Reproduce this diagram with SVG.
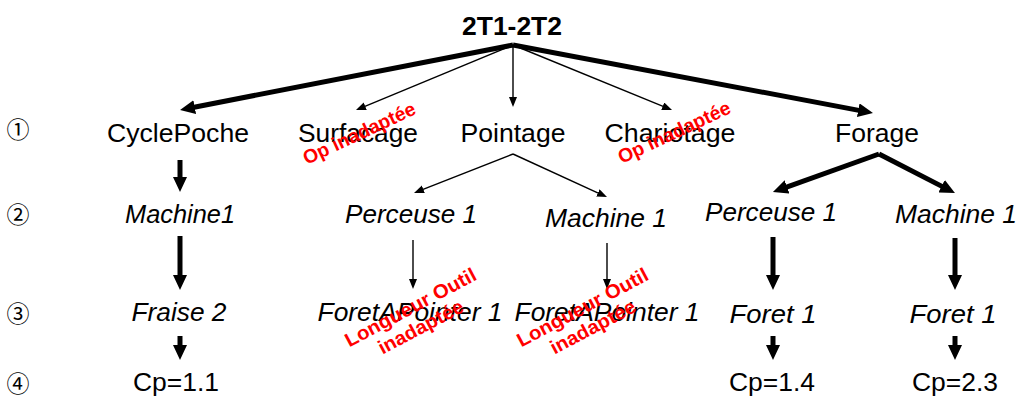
<svg xmlns="http://www.w3.org/2000/svg" width="1023" height="399" viewBox="0 0 1023 399">
<style>
  .n { font-family: "Liberation Sans", Arial, sans-serif; font-size: 25px; fill: #000; text-anchor: middle; }
  .i { font-style: italic; }
  .title { font-weight: bold; }
  .lvl { font-family: "Noto Sans CJK JP", "DejaVu Sans", sans-serif; font-size: 23px; fill: #000; text-anchor: middle; }
  .red { font-family: "Liberation Sans", Arial, sans-serif; font-size: 19.5px; font-weight: bold; fill: #ff0000; text-anchor: middle; }
  .thick { stroke: #000; stroke-width: 5; fill: none; marker-end: url(#hk); }
  .thin { stroke: #000; stroke-width: 1.4; fill: none; marker-end: url(#hn); }
</style>
<defs>
  <marker id="hk" markerUnits="userSpaceOnUse" markerWidth="16" markerHeight="14" refX="2" refY="7" orient="auto">
    <path d="M0,0 L15,7 L0,14 z" fill="#000"/>
  </marker>
  <marker id="hn" markerUnits="userSpaceOnUse" markerWidth="11" markerHeight="9" refX="1" refY="4" orient="auto">
    <path d="M0,0 L10,4 L0,8 z" fill="#000"/>
  </marker>
</defs>
<rect width="1023" height="399" fill="#fff"/>

<g id="connectors">
  <line class="thick" x1="513" y1="45" x2="192.8" y2="107.5"/>
  <line class="thin" x1="513" y1="45" x2="364.3" y2="106.6"/>
  <line class="thin" x1="513" y1="45" x2="513" y2="98"/>
  <line class="thin" x1="513" y1="45" x2="663.7" y2="106.6"/>
  <line class="thick" x1="513" y1="45" x2="860.2" y2="110.6"/>
  <line class="thin" x1="513" y1="154" x2="422.4" y2="189.7"/>
  <line class="thin" x1="513" y1="154" x2="598.8" y2="193.3"/>
  <line class="thick" x1="879" y1="154" x2="785.2" y2="187.6"/>
  <line class="thick" x1="879" y1="154" x2="943.4" y2="187.1"/>
  <line class="thick" x1="180" y1="160" x2="180" y2="179"/>
  <line class="thick" x1="180" y1="236" x2="180" y2="277"/>
  <line class="thick" x1="180" y1="336" x2="180" y2="347"/>
  <line class="thin" x1="413" y1="240" x2="413" y2="280"/>
  <line class="thin" x1="607" y1="243" x2="607" y2="280"/>
  <line class="thick" x1="773" y1="237" x2="773" y2="277"/>
  <line class="thick" x1="955" y1="238" x2="955" y2="277"/>
  <line class="thick" x1="773" y1="336" x2="773" y2="347"/>
  <line class="thick" x1="955" y1="336" x2="955" y2="347"/>
</g>

<g id="levels">
  <text class="lvl" x="18" y="138">①</text>
  <text class="lvl" x="18" y="223">②</text>
  <text class="lvl" x="18" y="322">③</text>
  <text class="lvl" x="18" y="392">④</text>
</g>

<g id="root"><text class="n title" x="512" y="35" textLength="100" lengthAdjust="spacingAndGlyphs">2T1-2T2</text></g>

<g id="cyclepoche"><text class="n" x="178" y="142" textLength="142" lengthAdjust="spacingAndGlyphs">CyclePoche</text></g>
<g id="surfacage"><text class="n" x="358" y="142" textLength="120" lengthAdjust="spacingAndGlyphs">Surfacage</text></g>
<g id="pointage"><text class="n" x="513" y="142" textLength="105" lengthAdjust="spacingAndGlyphs">Pointage</text></g>
<g id="chariotage"><text class="n" x="670" y="142" textLength="131" lengthAdjust="spacingAndGlyphs">Chariotage</text></g>
<g id="forage"><text class="n" x="877" y="142" textLength="84" lengthAdjust="spacingAndGlyphs">Forage</text></g>

<g id="machine1-a"><text class="n i" x="180" y="223" textLength="110" lengthAdjust="spacingAndGlyphs">Machine1</text></g>
<g id="perceuse1-b"><text class="n i" x="411" y="223" textLength="132" lengthAdjust="spacingAndGlyphs">Perceuse 1</text></g>
<g id="machine1-b"><text class="n i" x="606" y="227" textLength="122" lengthAdjust="spacingAndGlyphs">Machine 1</text></g>
<g id="perceuse1-c"><text class="n i" x="771" y="221" textLength="132" lengthAdjust="spacingAndGlyphs">Perceuse 1</text></g>
<g id="machine1-c"><text class="n i" x="956" y="223" textLength="122" lengthAdjust="spacingAndGlyphs">Machine 1</text></g>

<g id="fraise2"><text class="n i" x="179" y="321" textLength="95" lengthAdjust="spacingAndGlyphs">Fraise 2</text></g>
<g id="foretapointer1-b"><text class="n i" x="410" y="321" textLength="185" lengthAdjust="spacingAndGlyphs">ForetAPointer 1</text></g>
<g id="foretapointer1-c"><text class="n i" x="607" y="321" textLength="185" lengthAdjust="spacingAndGlyphs">ForetAPointer 1</text></g>
<g id="foret1-c"><text class="n i" x="773" y="323" textLength="87" lengthAdjust="spacingAndGlyphs">Foret 1</text></g>
<g id="foret1-d"><text class="n i" x="953" y="323" textLength="87" lengthAdjust="spacingAndGlyphs">Foret 1</text></g>

<g id="cp11"><text class="n" x="176" y="391" textLength="86" lengthAdjust="spacingAndGlyphs">Cp=1.1</text></g>
<g id="cp14"><text class="n" x="772" y="391" textLength="86" lengthAdjust="spacingAndGlyphs">Cp=1.4</text></g>
<g id="cp23"><text class="n" x="955" y="391" textLength="86" lengthAdjust="spacingAndGlyphs">Cp=2.3</text></g>

<g id="annotations">
  <g transform="translate(359,133) rotate(-25)"><text class="red" x="0" y="7" textLength="122" lengthAdjust="spacingAndGlyphs">Op inadaptée</text></g>
  <g transform="translate(674,132) rotate(-25)"><text class="red" x="0" y="7" textLength="122" lengthAdjust="spacingAndGlyphs">Op inadaptée</text></g>
  <g transform="translate(415,316) rotate(-28)"><text class="red" x="0" y="-3" textLength="146" lengthAdjust="spacingAndGlyphs">Longueur Outil</text><text class="red" x="0" y="19" textLength="94" lengthAdjust="spacingAndGlyphs">inadaptée</text></g>
  <g transform="translate(587,316) rotate(-28)"><text class="red" x="0" y="-3" textLength="146" lengthAdjust="spacingAndGlyphs">Longueur Outil</text><text class="red" x="0" y="19" textLength="94" lengthAdjust="spacingAndGlyphs">inadaptée</text></g>
</g>
</svg>
